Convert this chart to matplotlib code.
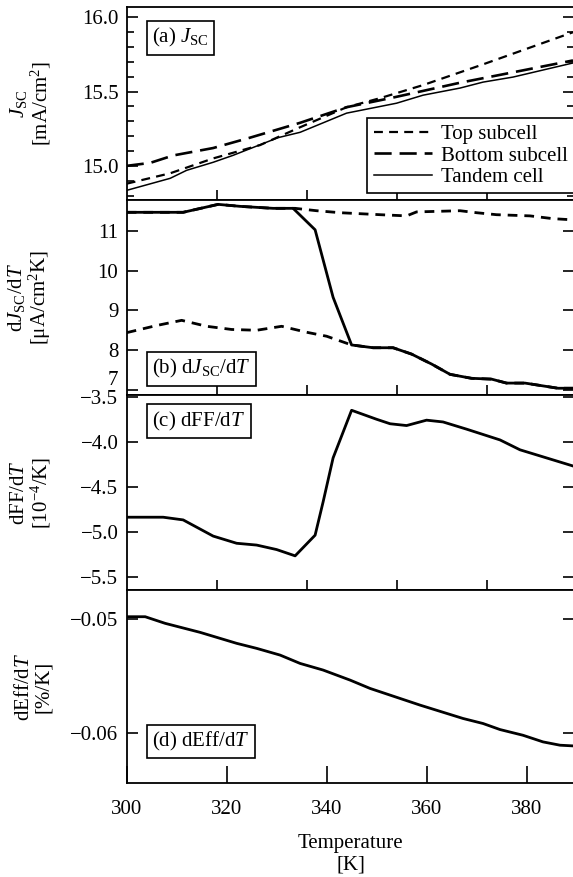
import matplotlib
matplotlib.use("Agg")
import matplotlib.pyplot as plt
from matplotlib.ticker import FixedLocator, FuncFormatter, MultipleLocator

plt.rcParams['font.family'] = ['Liberation Serif', 'DejaVu Serif']
plt.rcParams['mathtext.fontset'] = 'custom'
plt.rcParams['mathtext.rm'] = 'Liberation Serif'
plt.rcParams['mathtext.it'] = 'Liberation Serif:italic'
plt.rcParams['font.size'] = 15

# (a) Jsc [mA/cm2]
t_top_a = [300, 308.7, 317.3, 326.7, 334.7, 344, 350.7, 359.3, 371, 389.3]
jsc_top = [14.88, 14.95, 15.05, 15.14, 15.26, 15.395, 15.456, 15.544, 15.68, 15.90]
t_bot_a = [300, 304.7, 309.3, 317.3, 324.7, 334.7, 344, 353.3, 366.7, 377.3, 389.3]
jsc_bot = [15.00, 15.02, 15.07, 15.12, 15.19, 15.29, 15.395, 15.46, 15.56, 15.63, 15.71]
t_tan_a = [300, 308.7, 312, 317.3, 321.3, 330.3, 334.7, 344, 354, 359.3, 366.7, 371.3, 377.3, 389.3]
jsc_tan = [14.835, 14.916, 14.970, 15.024, 15.071, 15.19, 15.226, 15.355, 15.422, 15.476,
           15.524, 15.564, 15.598, 15.693]

# (b) dJsc/dT [uA/cm2K]
t_tan_b = [300, 311.3, 318.3, 322.7, 329.3, 333.3, 337.7, 341.3, 345, 349.3, 353.3, 357, 361,
           364.7, 369, 373, 376, 379.7, 386.3, 389.3]
djsc_tan = [11.47, 11.47, 11.67, 11.62, 11.57, 11.57, 11.03, 9.33, 8.13, 8.06, 8.06, 7.90, 7.65,
            7.39, 7.29, 7.27, 7.17, 7.17, 7.04, 7.04]
t_top_b = [300, 311.3, 318.3, 322.7, 329.3, 333.7, 338, 342.7, 350.7, 356, 358, 366.7, 370, 374,
           380.7, 385.3, 389.3]
djsc_top = [11.47, 11.47, 11.67, 11.62, 11.57, 11.57, 11.51, 11.46, 11.41, 11.38, 11.48, 11.51,
            11.46, 11.41, 11.38, 11.31, 11.28]
t_bot_b = [300, 306, 311, 316, 321, 326, 331, 336, 340, 345, 349.3, 353.3, 357, 361, 364.7, 369,
           373, 376, 379.7, 386.3, 389.3]
djsc_bot = [8.44, 8.62, 8.75, 8.60, 8.52, 8.50, 8.60, 8.45, 8.35, 8.13, 8.06, 8.06, 7.90, 7.65,
            7.39, 7.29, 7.27, 7.17, 7.17, 7.04, 7.04]

# (c) dFF/dT [1e-4/K]
t_c = [300, 307.3, 311.3, 317.3, 322, 326, 330, 333.7, 337.7, 339.3, 341.3, 345, 350, 352.7,
       356, 360, 363.3, 368, 374.7, 378.7, 384, 389.3]
dff = [-4.84, -4.84, -4.87, -5.05, -5.13, -5.15, -5.20, -5.27, -5.04, -4.67, -4.18, -3.65,
       -3.75, -3.80, -3.82, -3.76, -3.78, -3.86, -3.98, -4.09, -4.18, -4.27]

# (d) dEff/dT [%/K]
t_d = [300, 303.7, 307.7, 314.7, 322, 326, 330.7, 334.7, 339.3, 344.7, 348.7, 358.7, 367.3,
       371.3, 374.7, 379.3, 383.3, 386.7, 389.3]
deff = [-0.0498, -0.0498, -0.05038, -0.05117, -0.05213, -0.05257, -0.05316, -0.05389, -0.05447,
        -0.05535, -0.05608, -0.05754, -0.05871, -0.05915, -0.05968, -0.06018, -0.06076,
        -0.06105, -0.06111]

xt_upper = [318, 336, 354, 372]
xt_lower = [300, 320, 340, 360, 380]
yt_b = [7, 8, 9, 10, 11]


def fmt(spec):
    return FuncFormatter(lambda v, pos: (spec % v).replace('-', '\u2212'))


fig = plt.figure(figsize=(5.73, 8.77), dpi=100)
left, width = 0.2211, 0.7815
ax_a = fig.add_axes([left, 0.77195, width, 0.22007])
ax_b = fig.add_axes([left, 0.54960, width, 0.22235])
ax_c = fig.add_axes([left, 0.32725, width, 0.22235])
ax_d = fig.add_axes([left, 0.10718, width, 0.22007])
axes = [ax_a, ax_b, ax_c, ax_d]

short_dash = (0, (4.0, 2.8))
long_dash = (0, (6.5, 3.0))

ax_a.plot(t_top_a, jsc_top, color='black', lw=1.6, ls=short_dash, label='Top subcell')
ax_a.plot(t_bot_a, jsc_bot, color='black', lw=1.9, ls=long_dash, label='Bottom subcell')
ax_a.plot(t_tan_a, jsc_tan, color='black', lw=1.1, label='Tandem cell')

ax_b.plot(t_top_b, djsc_top, color='black', lw=2.0, ls=(0, (3.5, 2.5)))
ax_b.plot(t_bot_b, djsc_bot, color='black', lw=2.0, ls=(0, (3.5, 2.5)))
ax_b.plot(t_tan_b, djsc_tan, color='black', lw=2.0)

ax_c.plot(t_c, dff, color='black', lw=2.0)
ax_d.plot(t_d, deff, color='black', lw=2.0)

ax_a.set_ylim(14.77, 16.07)
ax_b.set_ylim(6.87, 11.78)
ax_c.set_ylim(-5.65, -3.48)
ax_d.set_ylim(-0.06436, -0.04746)

ax_a.yaxis.set_major_locator(MultipleLocator(0.5))
ax_a.yaxis.set_minor_locator(MultipleLocator(0.1))
ax_a.yaxis.set_major_formatter(fmt('%.1f'))
ax_b.yaxis.set_major_locator(FixedLocator(yt_b))
ax_b.yaxis.set_major_formatter(fmt('%d'))
ax_c.yaxis.set_major_locator(MultipleLocator(0.5))
ax_c.yaxis.set_major_formatter(fmt('%.1f'))
ax_d.yaxis.set_major_locator(FixedLocator([-0.06, -0.05]))
ax_d.yaxis.set_major_formatter(fmt('%.2f'))

for ax in axes:
    ax.set_xlim(300, 389.6)
    for s in ax.spines.values():
        s.set_linewidth(1.3)
    ax.tick_params(axis='y', which='both', direction='in', left=True, right=True,
                   labelsize=15, pad=6, width=1.2)
    ax.tick_params(axis='y', which='major', length=8)
    ax.tick_params(axis='y', which='minor', length=5)

for ax in [ax_a, ax_b, ax_c]:
    ax.xaxis.set_major_locator(FixedLocator(xt_upper))
    ax.tick_params(axis='x', which='major', direction='inout', length=14, width=1.2,
                   bottom=True, top=False, labelbottom=False)
ax_a.xaxis.set_minor_locator(FixedLocator(xt_upper))
ax_a.tick_params(axis='x', which='minor', direction='in', length=11, width=1.2,
                 top=True, bottom=False)

ax_d.xaxis.set_major_locator(FixedLocator(xt_lower))
ax_d.xaxis.set_major_formatter(fmt('%d'))
ax_d.tick_params(axis='x', direction='in', length=12, width=1.2, labelsize=15, pad=12)
ax_d.set_xlabel('Temperature\n[K]', fontsize=15, labelpad=11, linespacing=1.2)

ylabels = ['$J_{\\rm SC}$\n[mA/cm$^2$]', 'd$J_{\\rm SC}$/d$T$\n[μA/cm$^2$K]',
           'dFF/d$T$\n[10$^{-4}$/K]', 'dEff/d$T$\n[%/K]']
for ax, lab in zip(axes, ylabels):
    ax.set_ylabel(lab, fontsize=15, linespacing=1.0)
    ax.yaxis.set_label_coords(-0.165, 0.5)

# lift the lowest label of (b) so it clears the -3.5 of (c)
fig.canvas.draw()
ax_b.yaxis.get_major_ticks()[0].label1.set_verticalalignment('bottom')

box = dict(boxstyle='square,pad=0.25', fc='white', ec='black', lw=1.2)
ax_a.text(0.057, 0.90, '(a) $J_{\\rm SC}$', transform=ax_a.transAxes, ha='left', va='top',
          bbox=box, zorder=10)
ax_b.text(0.057, 0.075, '(b) d$J_{\\rm SC}$/d$T$', transform=ax_b.transAxes, ha='left',
          va='bottom', bbox=box, zorder=10)
ax_c.text(0.057, 0.925, '(c) dFF/d$T$', transform=ax_c.transAxes, ha='left', va='top',
          bbox=box, zorder=10)
ax_d.text(0.057, 0.155, '(d) dEff/d$T$', transform=ax_d.transAxes, ha='left', va='bottom',
          bbox=box, zorder=10)

leg = ax_a.legend(loc='lower right', bbox_to_anchor=(1.0, 0.036), borderaxespad=0,
                  fancybox=False, framealpha=1, edgecolor='black', fontsize=15,
                  handlelength=2.8, handletextpad=0.45, labelspacing=0.08, borderpad=0.3)
leg.get_frame().set_linewidth(1.2)

fig.savefig('out.png', dpi=100)
